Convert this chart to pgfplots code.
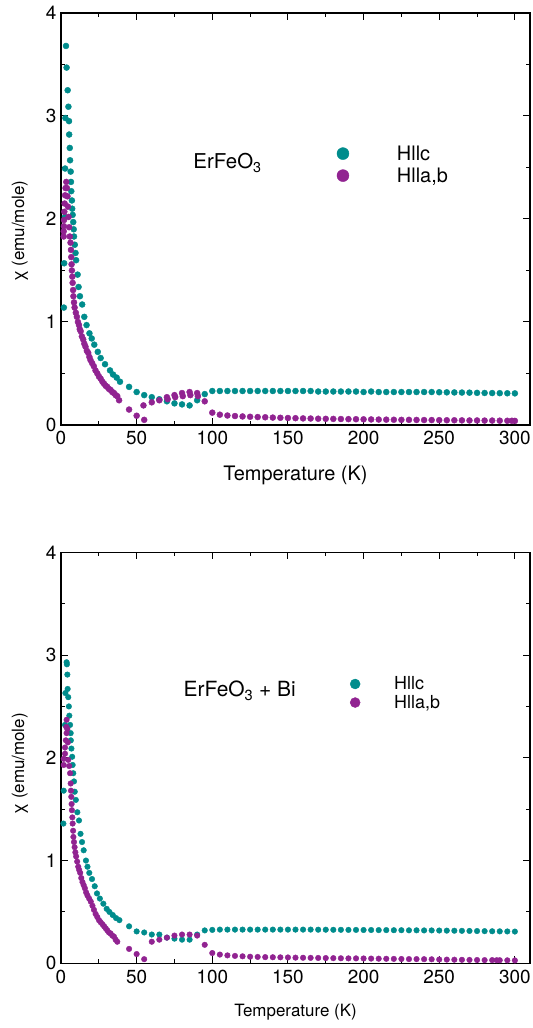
\documentclass[border=0pt]{standalone}
\usepackage{pgfplots}
\pgfplotsset{compat=1.18}
\usepackage{fontspec}
\setmainfont{TeX Gyre Heros}
\definecolor{cteal}{RGB}{0,140,140}
\definecolor{cpurp}{RGB}{145,35,145}

\pgfplotsset{
  chiaxis/.style={
    scale only axis, width=469bp,
    xmin=0, xmax=310, ymin=0, ymax=4,
    xtick={0,50,...,300}, minor x tick num=1,
    ytick={0,1,2,3,4}, minor y tick num=1,
    tick align=inside,
    major tick length=7bp, minor tick length=4bp,
    axis line style={line width=1.3bp},
    every tick/.style={line width=1bp, black},
    /pgf/number format/assume math mode=true,
    ticklabel style={font=\fontsize{19}{22}\selectfont},
    xticklabel style={yshift=-3bp},
    yticklabel style={xshift=-1bp},
    ylabel={χ (emu/mole)},
    xlabel={Temperature (K)},
    legend cell align=left,
  },
  % legend symbol: one dot, followed by a blank stretch of the given width
  dotkey/.style={legend image code/.code={\path[draw=none,fill=none] (-6bp,0) -- (#1,0); \draw[##1] plot coordinates {(0bp,0bp)};}},
  cdots/.style={cteal, only marks, mark=*, mark size=#1, forget plot},
  pdots/.style={cpurp, only marks, mark=*, mark size=#1, forget plot},
}

\begin{document}
\begin{tikzpicture}
\path[use as bounding box] (0,0) rectangle (533bp,1028bp);

% ---------------- ErFeO3 ----------------
\begin{axis}[chiaxis, height=412bp, at={(61bp,603bp)}, anchor=south west,
  ylabel style={at={(ticklabel cs:0.47)}, yshift=11bp, font=\fontsize{17}{20}\selectfont},
  xlabel style={yshift=-14bp, font=\fontsize{20}{24}\selectfont},
  dotkey=52bp,
  legend style={draw=none, fill=none, inner sep=0pt, at={(rel axis cs:0.588,0.632)}, anchor=west,
    font=\fontsize{20}{24}\selectfont, row sep=2bp}]
\addlegendimage{cteal, only marks, mark=*, mark size=6bp}
\addlegendentry{Hllc}
\addlegendimage{cpurp, only marks, mark=*, mark size=6bp}
\addlegendentry{Hlla,b}
% H || c
\addplot[cdots=3bp] table {
1.9 1.14
2.1 1.57
2.6 2.02
2.7 2.49
2.9 2.98
3.3 3.68
3.7 3.47
4.4 3.25
4.9 3.09
5.3 2.95
5.4 2.82
5.8 2.69
6.0 2.57
6.4 2.46
6.6 2.36
6.8 2.27
7.2 2.18
7.4 2.10
7.7 2.04
8.1 1.97
8.4 1.90
8.6 1.83
9.1 1.75
9.6 1.67
10.0 1.60
11.0 1.46
11.6 1.34
12.5 1.25
14.0 1.17
15.4 1.05
16.9 0.97
18.8 0.89
20.3 0.84
22.0 0.78
24.3 0.71
26.2 0.65
29.1 0.59
32.4 0.53
34.4 0.49
36.8 0.46
39.0 0.42
45 0.37
50 0.32
55 0.29
60 0.27
65 0.25
70 0.23
75 0.21
80 0.20
85 0.19
90 0.24
95 0.30
100 0.33
105 0.33
110 0.33
115 0.33
120 0.33
125 0.33
130 0.33
135 0.33
140 0.33
145 0.33
150 0.33
155 0.33
160 0.33
165 0.33
170 0.325
175 0.325
180 0.325
185 0.325
190 0.325
195 0.325
200 0.32
205 0.325
210 0.32
215 0.32
220 0.32
225 0.32
230 0.32
235 0.32
240 0.32
245 0.32
250 0.318
255 0.317
260 0.316
265 0.315
270 0.314
275 0.312
280 0.311
285 0.310
290 0.309
295 0.308
300 0.307
};
% H || a,b
\addplot[pdots=3bp] table {
1.8 1.83
1.8 1.88
1.9 1.93
2.0 1.99
2.2 2.07
2.4 2.15
2.7 2.23
3.0 2.30
3.5 2.36
3.9 2.30
4.3 2.22
4.6 2.12
5.0 2.02
5.4 1.92
5.8 1.83
6.3 1.77
6.6 1.70
6.8 1.63
7.0 1.56
7.2 1.50
7.5 1.44
7.7 1.38
8.0 1.31
8.2 1.25
8.6 1.19
9.0 1.14
9.8 1.09
10.5 1.05
11.2 1.00
11.9 0.97
12.4 0.93
13.0 0.91
13.8 0.86
14.7 0.83
15.4 0.79
16.2 0.76
17.1 0.72
18.0 0.70
18.8 0.66
19.5 0.63
20.6 0.60
21.7 0.57
22.8 0.53
24.0 0.50
25.1 0.47
26.2 0.45
27.4 0.42
28.5 0.40
29.6 0.38
30.6 0.37
31.7 0.35
32.8 0.34
33.9 0.32
35.0 0.31
36.1 0.29
37.2 0.28
38.4 0.24
45 0.15
50 0.09
55 0.05
54.5 0.19
60 0.22
65 0.24
70 0.27
70.5 0.25
75 0.29
75.5 0.27
80 0.31
80.5 0.28
85 0.32
85.5 0.29
90 0.31
90.5 0.28
95 0.23
100 0.12
105 0.10
110 0.092
115 0.087
120 0.083
125 0.080
130 0.077
135 0.075
140 0.072
145 0.070
150 0.068
155 0.066
160 0.064
165 0.063
170 0.061
175 0.060
180 0.059
185 0.058
190 0.057
195 0.056
200 0.055
205 0.054
210 0.053
215 0.052
220 0.051
225 0.050
230 0.050
235 0.049
240 0.048
245 0.048
250 0.047
255 0.046
260 0.046
265 0.045
270 0.044
275 0.044
280 0.043
285 0.043
290 0.042
295 0.041
298 0.041
300 0.040
};
\node[anchor=west, font=\fontsize{20.5}{24}\selectfont] at (rel axis cs:0.275,0.636) {ErFeO\textsubscript{3}};
\end{axis}

% ---------------- ErFeO3 + Bi ----------------
\begin{axis}[chiaxis, height=411bp, at={(61bp,64.7bp)}, anchor=south west,
  ylabel style={at={(ticklabel cs:0.485)}, yshift=11bp, font=\fontsize{17}{20}\selectfont},
  xlabel style={yshift=-14bp, font=\fontsize{17}{20}\selectfont},
  dotkey=37bp,
  legend style={draw=none, fill=none, inner sep=0pt, at={(rel axis cs:0.614,0.657)}, anchor=west,
    font=\fontsize{18}{21}\selectfont, row sep=0bp}]
\addlegendimage{cteal, only marks, mark=*, mark size=5bp}
\addlegendentry{Hllc}
\addlegendimage{cpurp, only marks, mark=*, mark size=5bp}
\addlegendentry{Hlla,b}
% H || c
\addplot[cdots=2.8bp] table {
1.6 1.36
1.8 1.68
2.65 2.32
2.9 2.63
3.7 2.93
3.9 2.91
4.2 2.81
4.4 2.67
4.8 2.59
5.2 2.50
5.5 2.41
6.0 2.32
6.4 2.24
6.5 2.17
6.9 2.09
7.4 2.01
7.7 1.93
8.1 1.85
8.6 1.77
9.1 1.67
9.8 1.59
10.8 1.47
11.9 1.39
12.9 1.26
13.9 1.18
15.0 1.10
16.5 1.00
17.5 0.94
18.7 0.88
20.5 0.82
22.3 0.75
23.8 0.68
25.7 0.63
28.0 0.58
30.2 0.53
32.0 0.50
34.2 0.47
36.4 0.44
38.6 0.42
45 0.36
50 0.31
55 0.30
60 0.28
65 0.28
70 0.25
75 0.24
80 0.23
85 0.23
90 0.28
95 0.32
100 0.325
105 0.328
110 0.328
115 0.328
120 0.328
125 0.328
130 0.328
135 0.328
140 0.328
145 0.328
150 0.328
155 0.328
160 0.328
165 0.328
170 0.327
175 0.327
180 0.326
185 0.326
190 0.325
195 0.325
200 0.324
205 0.324
210 0.323
215 0.323
220 0.322
225 0.322
230 0.321
235 0.321
240 0.320
245 0.320
250 0.319
255 0.318
260 0.317
265 0.316
270 0.315
275 0.314
280 0.313
285 0.312
290 0.311
295 0.310
300 0.309
};
% H || a,b
\addplot[pdots=2.8bp] table {
1.8 1.93
1.8 1.99
2.65 2.04
2.65 2.10
3.2 2.17
3.7 2.24
3.5 2.30
3.7 2.37
4.2 2.28
4.5 2.15
4.8 1.98
5.4 1.92
6.0 1.85
6.4 1.75
6.6 1.68
6.8 1.62
7.0 1.55
7.2 1.49
7.5 1.42
7.7 1.36
8.0 1.29
8.2 1.23
8.6 1.18
9.0 1.13
9.5 1.08
10.0 1.04
10.7 0.99
11.4 0.94
12.0 0.91
12.7 0.88
13.4 0.83
14.2 0.79
15.0 0.76
15.8 0.73
16.6 0.69
17.5 0.66
18.6 0.63
19.7 0.60
20.8 0.56
21.8 0.52
22.9 0.48
24.0 0.45
25.1 0.42
26.2 0.40
27.4 0.38
28.5 0.36
29.6 0.34
30.6 0.32
31.7 0.30
32.8 0.29
33.9 0.27
35.0 0.26
36.1 0.23
37.2 0.21
45 0.14
50 0.09
55 0.04
60 0.21
65 0.23
70 0.25
75 0.27
80 0.28
85 0.28
90 0.27
95 0.18
100 0.10
105 0.085
110 0.077
115 0.072
120 0.068
125 0.064
130 0.062
135 0.060
140 0.059
145 0.058
150 0.057
155 0.055
160 0.054
165 0.053
170 0.052
175 0.051
180 0.050
185 0.049
190 0.048
195 0.048
200 0.047
205 0.046
210 0.045
215 0.044
220 0.043
225 0.042
230 0.041
235 0.041
240 0.040
245 0.039
250 0.037
255 0.036
260 0.035
265 0.034
270 0.033
275 0.032
280 0.031
285 0.031
288 0.030
290 0.030
295 0.029
300 0.028
};
\node[anchor=west, font=\fontsize{21}{25}\selectfont] at (rel axis cs:0.254,0.663) {ErFeO\textsubscript{3} + Bi};
\end{axis}
\end{tikzpicture}
\end{document}
